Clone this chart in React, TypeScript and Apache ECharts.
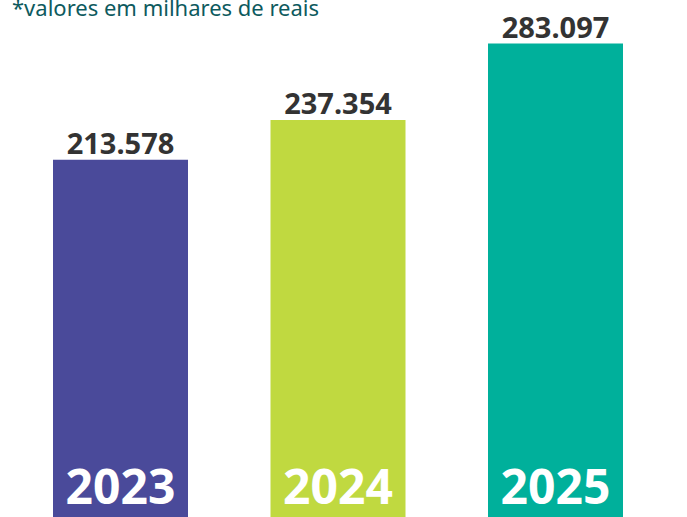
import React, { useEffect, useRef } from "react";
import * as echarts from "echarts";

const years = ["2023", "2024", "2025"];
const values = [213578, 237354, 283097];
const colors = ["#4a4a9a", "#c0d940", "#00b09b"];
const subtitle = "*valores em milhares de reais";

const fmt = (v: number) => v.toLocaleString("pt-BR").replace(/,/g, ".");

export default function App() {
  const ref = useRef<HTMLDivElement>(null);
  useEffect(() => {
    document.body.style.margin = "0";
    const chart = echarts.init(ref.current!, undefined, { renderer: "svg" });
    chart.setOption({
      animation: false,
      textStyle: { fontFamily: "Noto Sans" },
      grid: { left: 11.75, width: 652.5, top: 15.3, height: 509.2, containLabel: false },
      xAxis: {
        type: "category",
        data: years,
        z: 10,
        axisLine: { show: false },
        axisTick: { show: false },
        axisLabel: {
          inside: true,
          margin: 13.5,
          lineHeight: 36,
          color: "#ffffff",
          fontSize: 48,
          fontWeight: "bold",
          fontFamily: "Noto Sans",
        },
      },
      yAxis: {
        type: "value",
        min: 0,
        max: 300000,
        show: false,
        splitLine: { show: false },
      },
      graphic: [
        {
          type: "text",
          left: 12,
          top: -4.5,
          style: {
            text: subtitle,
            fill: "#0d5a5e",
            font: "22px 'Noto Sans'",
            lineHeight: 22,
          },
        },
      ],
      series: [
        {
          type: "bar",
          barWidth: 135,
          data: values.map((v, i) => ({ value: v, itemStyle: { color: colors[i] } })),
          label: {
            show: true,
            position: "top",
            distance: 3,
            color: "#333333",
            fontSize: 29,
            fontWeight: "bold",
            fontFamily: "Noto Sans",
            formatter: (p: any) => fmt(p.value),
          },
        },
      ],
    });
    return () => chart.dispose();
  }, []);
  return <div ref={ref} style={{ width: 687, height: 517 }} />;
}
